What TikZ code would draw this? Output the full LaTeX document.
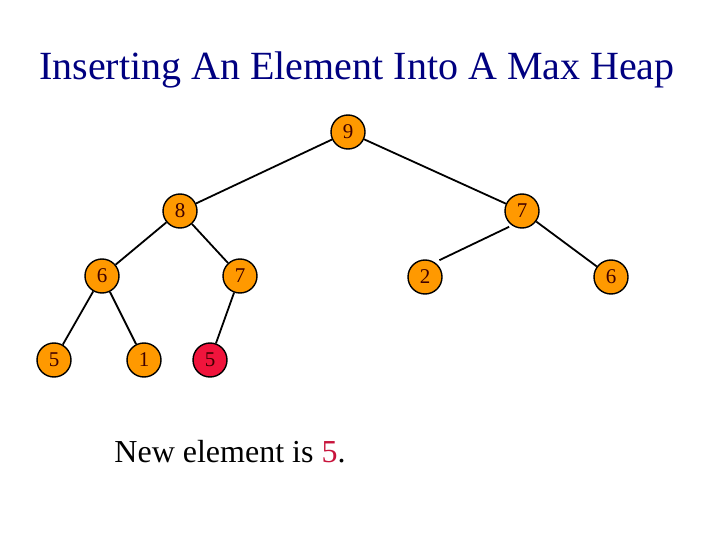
\documentclass[tikz,border=0pt]{standalone}
\usepackage{fontspec}
\setmainfont{Liberation Serif}
\usepackage{xcolor}
\usetikzlibrary{positioning}

\definecolor{heaporange}{RGB}{255,153,0}
\definecolor{heapred}{RGB}{240,20,60}
\definecolor{digitdark}{RGB}{64,0,0}
\definecolor{titleblue}{RGB}{0,0,128}
\definecolor{newred}{RGB}{200,20,60}

\begin{document}
\begin{tikzpicture}[
    x=1pt, y=-1pt,
    on grid,
    heapnode/.style={circle, draw=black, line width=1.4pt, fill=heaporange, minimum size=34pt, inner sep=0pt, text=digitdark, font=\fontsize{21}{21}\selectfont},
    newnode/.style={heapnode, fill=heapred},
    edge/.style={line width=1.8pt, draw=black}
]
\useasboundingbox (0,0) rectangle (720,540);

% Title
\node[text=titleblue, font=\fontsize{40}{44}\selectfont] (title) at (357,70) {Inserting An Element Into A Max Heap};

% Nodes
\node[heapnode] (n9) at (348,132) {9};

\node[heapnode, below left=79pt and 168pt of n9] (n8) {8};
\node[heapnode, below right=79pt and 174pt of n9] (n7a) {7};

\node[heapnode, below left=65pt and 78pt of n8] (n6a) {6};
\node[heapnode, below right=65pt and 60pt of n8] (n7b) {7};
\node[heapnode, below left=66pt and 97pt of n7a] (n2) {2};
\node[heapnode, below right=66pt and 89pt of n7a] (n6b) {6};

\node[heapnode, below left=84pt and 48pt of n6a] (n5a) {5};
\node[heapnode, below right=84pt and 42pt of n6a] (n1) {1};
\node[newnode, below left=84pt and 30pt of n7b] (n5b) {5};

% Caption
\node[font=\fontsize{32}{36}\selectfont] (caption) at (230,452) {New element is \textcolor{newred}{5}.};

% Edges
\draw[edge] (n9) -- (n8);
\draw[edge] (n9) -- (n7a);
\draw[edge] (n8) -- (n6a);
\draw[edge] (n8) -- (n7b);
\draw[edge, shorten <=3pt, shorten >=5pt] (n7a.235) -- (n2.56);
\draw[edge] (n7a) -- (n6b);
\draw[edge] (n6a) -- (n5a);
\draw[edge] (n6a) -- (n1);
\draw[edge] (n7b) -- (n5b);

\end{tikzpicture}
\end{document}
